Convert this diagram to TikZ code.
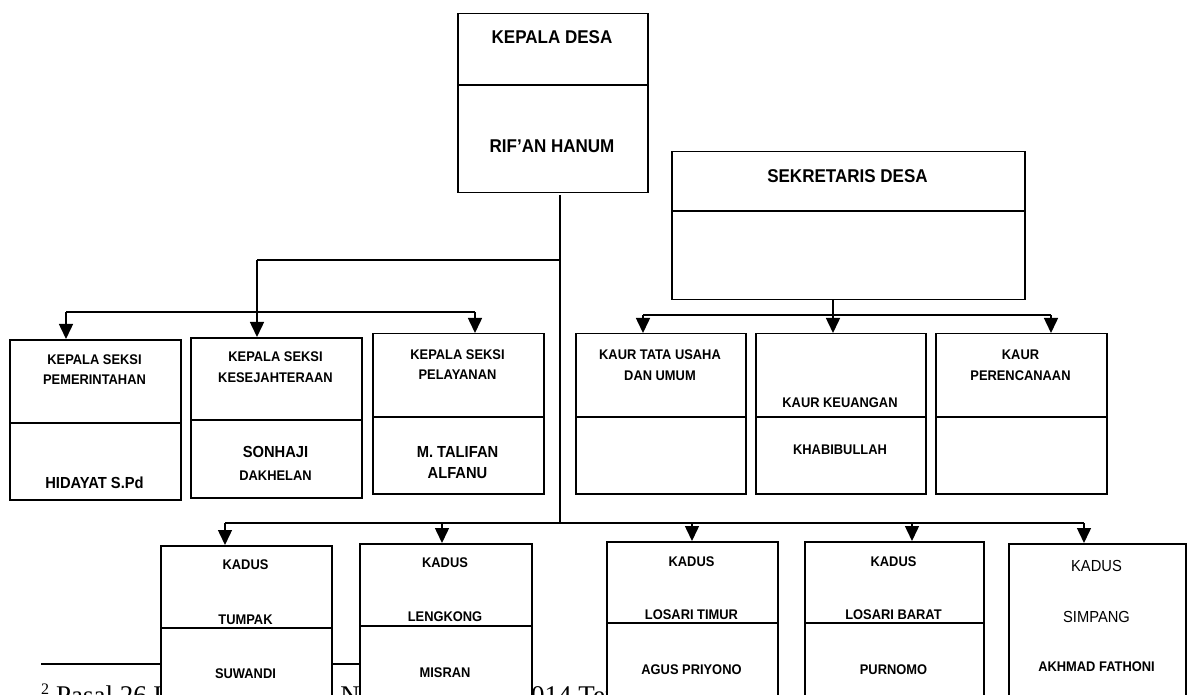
\documentclass[tikz,border=0pt]{standalone}
\usepackage{fontspec}
\setmainfont{Liberation Serif}
\newfontfamily\lab[FakeStretch=0.92]{Liberation Sans}
\usetikzlibrary{arrows.meta}
\tikzset{
  box/.style={draw, line width=1.5pt, fill=white, anchor=north west, inner sep=0pt},
  sepline/.style={line width=1.1pt},
  bus/.style={line width=1.5pt},
  thinline/.style={line width=1.2pt},
  arr/.style={line width=1.5pt, -{Triangle[length=15pt,width=14pt]}},
  lb/.style={font=\lab\bfseries\fontsize{14}{16}\selectfont, inner sep=0pt, anchor=center},
  lbm/.style={font=\lab\bfseries\fontsize{16}{18}\selectfont, inner sep=0pt, anchor=center},
  lbl/.style={font=\lab\bfseries\fontsize{18.5}{20}\selectfont, inner sep=0pt, anchor=center},
  lr/.style={font=\lab\fontsize{16}{18}\selectfont, inner sep=0pt, anchor=center},
  foot/.style={inner sep=0pt, anchor=base west},
}
\newcommand\obox[5]{\node[box, minimum width={#4-#2}, minimum height={#5-#3}] (#1) at (#2,#3) {};}
\newcommand\odiv[2]{\draw[sepline] (#1.west |- 0,#2) -- (#1.east |- 0,#2);}
\begin{document}
\begin{tikzpicture}[x=1pt, y=-1pt]
\useasboundingbox (0,0) rectangle (1187,695);
\clip (0,0) rectangle (1187,695);

% footnote (partly hidden behind the boxes)
\coordinate (fr1) at (41,664);
\coordinate (fr2) at (400,664);
\draw[line width=1.2pt] (fr1) -- (fr2);
\node[foot, font=\fontsize{16}{18}\selectfont] (fnum) at (41,694) {2};
\node[foot, font=\fontsize{27}{30}\selectfont] (ftext) at (56,704) {Pasal 26 Undang-Undang Nomor 6 Tahun 2014 Tentang Desa};

% Kepala Desa
\obox{kd}{457}{13}{647}{192}
\odiv{kd}{85}
\node[lbl] (kdt) at (552,37) {KEPALA DESA};
\node[lbl] (kdn) at (552,146) {RIF’AN HANUM};

% Sekretaris Desa
\obox{sd}{671}{151}{1024}{299}
\odiv{sd}{211}
\node[lbl] (sdt) at (847.5,176) {SEKRETARIS DESA};

% Kepala Seksi
\obox{b1}{9}{339}{180}{499}
\odiv{b1}{423}
\node[lb] (b1a) at (94.5,360) {KEPALA SEKSI};
\node[lb] (b1b) at (94.5,380) {PEMERINTAHAN};
\begin{scope}
\clip (10,424) rectangle (179,488);
\node[lbm] (b1n) at (94.5,483) {HIDAYAT S.Pd};
\end{scope}

\obox{b2}{190}{337}{361}{497}
\odiv{b2}{420}
\node[lb] (b2a) at (275.5,357) {KEPALA SEKSI};
\node[lb] (b2b) at (275.5,378) {KESEJAHTERAAN};
\node[lbm] (b2n) at (275.5,452) {SONHAJI};
\node[lb] (b2m) at (275.5,476) {DAKHELAN};

\obox{b3}{372}{333}{543}{493}
\odiv{b3}{417}
\node[lb] (b3a) at (457.5,355) {KEPALA SEKSI};
\node[lb] (b3b) at (457.5,375) {PELAYANAN};
\node[lbm] (b3n) at (457.5,452) {M. TALIFAN};
\node[lbm] (b3m) at (457.5,473) {ALFANU};

% Kaur
\obox{k1}{575}{333}{745}{493}
\odiv{k1}{417}
\node[lb] (k1a) at (660,355) {KAUR TATA USAHA};
\node[lb] (k1b) at (660,376) {DAN UMUM};

\obox{k2}{755}{333}{925}{493}
\odiv{k2}{417}
\node[lb] (k2a) at (840,403) {KAUR KEUANGAN};
\node[lb] (k2n) at (840,450) {KHABIBULLAH};

\obox{k3}{935}{333}{1106}{493}
\odiv{k3}{417}
\node[lb] (k3a) at (1020.5,355) {KAUR};
\node[lb] (k3b) at (1020.5,376) {PERENCANAAN};

% Kadus
\obox{d1}{160}{545}{331}{720}
\odiv{d1}{628}
\node[lb] (d1a) at (245.5,565) {KADUS};
\node[lb] (d1b) at (245.5,620) {TUMPAK};
\node[lb] (d1n) at (245.5,674) {SUWANDI};

\obox{d2}{359}{543}{531}{720}
\odiv{d2}{626}
\node[lb] (d2a) at (445,563) {KADUS};
\node[lb] (d2b) at (445,617) {LENGKONG};
\node[lb] (d2n) at (445,673) {MISRAN};

\obox{d3}{606}{541}{777}{720}
\odiv{d3}{623}
\node[lb] (d3a) at (691.5,562) {KADUS};
\node[lb] (d3b) at (691.5,615) {LOSARI TIMUR};
\node[lb] (d3n) at (691.5,670) {AGUS PRIYONO};

\obox{d4}{804}{541}{983}{720}
\odiv{d4}{623}
\node[lb] (d4a) at (893.5,562) {KADUS};
\node[lb] (d4b) at (893.5,615) {LOSARI BARAT};
\node[lb] (d4n) at (893.5,670) {PURNOMO};

\obox{d5}{1008}{543}{1185}{720}
\node[lr] (d5a) at (1096.5,566) {KADUS};
\node[lr] (d5b) at (1096.5,617) {SIMPANG};
\node[lb] (d5n) at (1096.5,667) {AKHMAD FATHONI};

% connectors: main spine
\coordinate (spT) at (560,195);
\coordinate (spL) at (560,260);
\coordinate (spB) at (560,523);
\draw[thinline] (spT) -- (spB);

% left branch (Kepala Seksi)
\coordinate (lj) at (257,260);
\coordinate (lm) at (257,312);
\coordinate (la) at (66,312);
\coordinate (lc) at (475,312);
\draw[thinline] (spL) -- (lj);
\draw[bus] (lj) -- (lm);
\draw[bus] (la) -- (lc);
\draw[arr] (la) -- (la |- b1.north);
\draw[arr] (lm) -- (lm |- b2.north);
\draw[arr] (lc) -- (lc |- b3.north);

% Sekretaris branch (Kaur)
\coordinate (sj) at (833,315);
\coordinate (sa) at (643,315);
\coordinate (sc) at (1051,315);
\draw[bus] (sd.south -| sj) -- (sj);
\draw[bus] (sa) -- (sc);
\draw[arr] (sa) -- (sa |- k1.north);
\draw[arr] (sj) -- (sj |- k2.north);
\draw[arr] (sc) -- (sc |- k3.north);

% lower branch (Kadus)
\coordinate (da) at (225,523);
\coordinate (db) at (442,523);
\coordinate (dc) at (692,523);
\coordinate (dd) at (912,523);
\coordinate (de) at (1084,523);
\draw[bus] (da) -- (de);
\draw[arr] (da) -- (da |- d1.north);
\draw[arr] (db) -- (db |- d2.north);
\draw[arr] (dc) -- (dc |- d3.north);
\draw[arr] (dd) -- (dd |- d4.north);
\draw[arr] (de) -- (de |- d5.north);
\end{tikzpicture}
\end{document}
